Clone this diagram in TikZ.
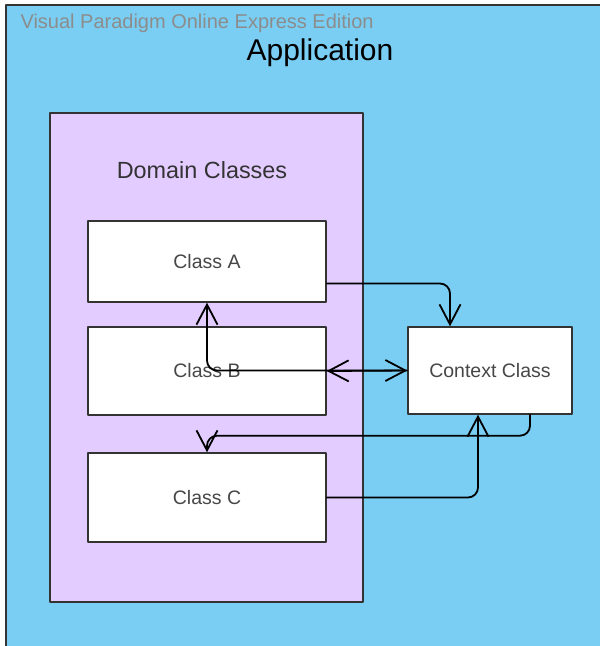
\documentclass[tikz,border=0pt]{standalone}
\usepackage{fontspec}
\setmainfont{Liberation Sans}
\usetikzlibrary{arrows.meta}
\definecolor{appblue}{RGB}{122,206,243}
\definecolor{dompurple}{RGB}{227,204,255}
\definecolor{edgegray}{RGB}{51,51,51}
\begin{document}
\begin{tikzpicture}[x=1pt,y=-1pt,>={Straight Barb[length=20pt,width=21pt]}, line join=round, line cap=round,
    cls/.style={draw=edgegray, line width=1.4pt, fill=white, minimum width=238pt, inner sep=0pt,
        text=black!72, font=\fontsize{19.5}{22}\selectfont},
    conn/.style={line width=1.8pt, rounded corners=10pt}]
    \def\cx{207} % centre of the class column
    \clip (0,0) rectangle (600,646);
    \fill[white] (0,0) rectangle (600,646);
    \draw[edgegray, fill=appblue, line width=1.4pt] (6,5) rectangle (620,660);
    \node[anchor=base west, text=black!45, font=\fontsize{20}{22}\selectfont] (vp) at (17,28.5) {Visual Paradigm Online Express Edition};
    \node[anchor=base, font=\fontsize{30}{34}\selectfont] (app) at (320,60) {Application};
    \node[draw=edgegray, line width=1.4pt, fill=dompurple, minimum width=313pt, minimum height=489pt] (domain) at (206.5,357.5) {};
    \node[text=black!80, font=\fontsize{23.4}{26}\selectfont] (domlabel) at (202,170) {Domain Classes};
    \foreach \n/\t/\y/\h in {classA/Class A/261.5/81, classB/Class B/371/88, classC/Class C/497.5/89}
        \node[cls, minimum height=\h pt] (\n) at (\cx,\y) {\t};
    \node[cls, minimum width=164pt, minimum height=87pt] (context) at (490,370.5) {Context Class};
    % connectors
    \draw[conn,->] ([yshift=-22pt]classA.east) -| ([xshift=-40pt]context.north);
    \draw[conn,<->] (classA.south) |- (context.west);
    \draw[conn,->] (context.west) -- (classB.east);
    \draw[conn,->] ([xshift=40pt]context.south) -- ++(0,21) -| (classC.north);
    \draw[conn,->] (classC.east) -| ([xshift=-12pt]context.south);
\end{tikzpicture}
\end{document}
